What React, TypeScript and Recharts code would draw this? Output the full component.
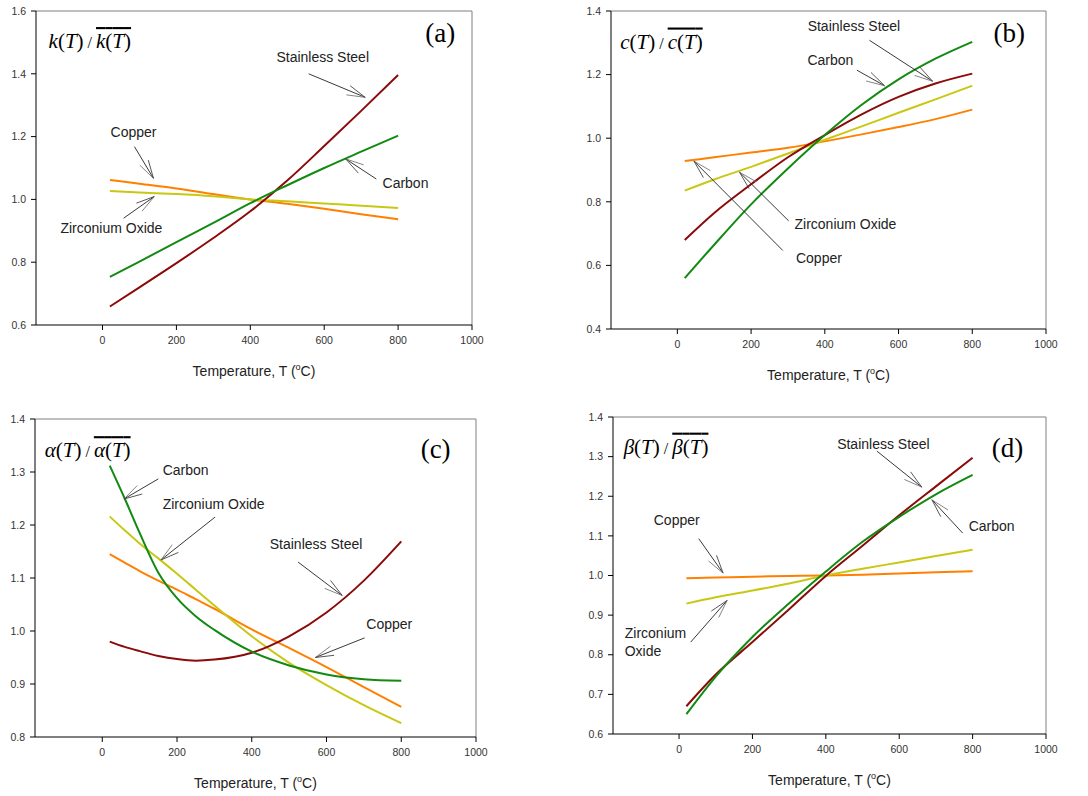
import React from 'react';
import { LineChart, Line, XAxis, YAxis, ReferenceLine, ReferenceDot } from 'recharts';

// ---------- data ----------
const TEMPS = [20, 100, 200, 300, 400, 500, 600, 700, 800];
const TEMPS_C = [20, 60, 100, 150, 200, 250, 300, 400, 500, 600, 700, 800];
const X_TICKS = [0, 200, 400, 600, 800, 1000];

// (a) thermal conductivity k(T)/mean
const kSteel = [0.659, 0.72, 0.797, 0.877, 0.962, 1.06, 1.17, 1.282, 1.396];
const kCarbon = [0.753, 0.802, 0.864, 0.925, 0.988, 1.045, 1.1, 1.152, 1.203];
const kCopper = [1.062, 1.05, 1.035, 1.017, 1.0, 0.986, 0.97, 0.953, 0.937];
const kZirconia = [1.027, 1.022, 1.017, 1.01, 1.0, 0.994, 0.987, 0.98, 0.973];

// (b) specific heat c(T)/mean
const cSteel = [0.68, 0.765, 0.855, 0.94, 1.01, 1.075, 1.13, 1.172, 1.203];
const cCarbon = [0.56, 0.665, 0.792, 0.905, 1.01, 1.105, 1.185, 1.25, 1.303];
const cCopper = [0.928, 0.94, 0.955, 0.97, 0.99, 1.012, 1.035, 1.06, 1.09];
const cZirconia = [0.835, 0.87, 0.91, 0.952, 0.995, 1.037, 1.08, 1.122, 1.165];

// (c) thermal expansion alpha(T)/mean  (on TEMPS_C)
const aSteel = [0.98, 0.97, 0.962, 0.953, 0.947, 0.944, 0.946, 0.959, 0.99, 1.035, 1.095, 1.169];
const aCarbon = [1.312, 1.25, 1.185, 1.11, 1.062, 1.028, 1.002, 0.961, 0.935, 0.918, 0.909, 0.906];
const aCopper = [1.145, 1.129, 1.113, 1.095, 1.078, 1.06, 1.042, 1.003, 0.968, 0.932, 0.894, 0.857];
const aZirconia = [1.216, 1.19, 1.165, 1.137, 1.108, 1.078, 1.048, 0.99, 0.94, 0.898, 0.86, 0.826];

// (d) beta(T)/mean
const bSteel = [0.67, 0.75, 0.832, 0.915, 0.999, 1.075, 1.152, 1.225, 1.297];
const bCarbon = [0.65, 0.745, 0.845, 0.93, 1.01, 1.085, 1.148, 1.205, 1.254];
const bCopper = [0.993, 0.995, 0.997, 0.999, 1.0, 1.002, 1.005, 1.008, 1.011];
const bZirconia = [0.929, 0.945, 0.962, 0.98, 1.0, 1.017, 1.033, 1.049, 1.065];

const COLORS = {
  steel: '#8B0A0A',
  carbon: '#128A12',
  copper: '#FF8000',
  zirconia: '#C8C814',
};

const build = (temps: number[], steel: number[], carbon: number[], copper: number[], zirconia: number[]) =>
  temps.map((t, i) => ({ t, steel: steel[i], carbon: carbon[i], copper: copper[i], zirconia: zirconia[i] }));

const SANS = "'Liberation Sans', Arial, sans-serif";
const SERIF = "'Liberation Serif', 'Times New Roman', serif";

type Ann = { text: string; x: number; y: number; anchor?: 'start' | 'middle' | 'end' };
type Arr = { x1: number; y1: number; x2: number; y2: number };

const arrowShape = (p: any) => {
  const { x1, y1, x2, y2 } = p;
  if ([x1, y1, x2, y2].some((v) => typeof v !== 'number' || isNaN(v))) return <g />;
  const ang = Math.atan2(y2 - y1, x2 - x1);
  const L = 19;
  const a = (15 * Math.PI) / 180;
  const bx1 = x2 - L * Math.cos(ang - a);
  const by1 = y2 - L * Math.sin(ang - a);
  const bx2 = x2 - L * Math.cos(ang + a);
  const by2 = y2 - L * Math.sin(ang + a);
  return (
    <g>
      <line x1={x1} y1={y1} x2={x2} y2={y2} stroke="#222" strokeWidth={0.9} />
      <line x1={x2} y1={y2} x2={bx1} y2={by1} stroke="#777" strokeWidth={0.9} />
      <line x1={x2} y1={y2} x2={bx2} y2={by2} stroke="#444" strokeWidth={0.9} />
    </g>
  );
};

type PanelProps = {
  left: number;
  top: number;
  width: number;
  height: number;
  margin: { top: number; right: number; bottom: number; left: number };
  data: any[];
  yDomain: [number, number];
  yTicks: number[];
  symbol: string;
  formula: { x: number; y: number };
  letter: string;
  letterPos: { x: number; y: number };
  labels: Ann[];
  arrows: Arr[];
};

const Panel = (p: PanelProps) => {
  const xTitle = (props: any) => {
    const vb = props.viewBox || {};
    return (
      <text
        x={vb.x + vb.width / 2}
        y={vb.y + 51}
        textAnchor="middle"
        fontFamily={SANS}
        fontSize={14}
        fill="#222"
      >
        Temperature, T (
        <tspan fontSize={9} dy={-6}>o</tspan>
        <tspan dy={6}>C)</tspan>
      </text>
    );
  };
  return (
    <div style={{ position: 'absolute', left: p.left, top: p.top, width: p.width, height: p.height }}>
      <LineChart width={p.width} height={p.height} data={p.data} margin={p.margin}>
        <XAxis
          dataKey="t"
          type="number"
          domain={[-180, 1000]}
          ticks={X_TICKS}
          allowDataOverflow
          stroke="#000"
          tickSize={5}
          tickMargin={7}
          height={30}
          tick={{ fill: '#333', fontSize: 10.5, fontFamily: SANS }}
          label={xTitle}
        />
        <YAxis
          type="number"
          domain={p.yDomain}
          ticks={p.yTicks}
          allowDataOverflow
          stroke="#000"
          tickSize={5}
          tickMargin={5}
          width={30}
          tickFormatter={(v: number) => v.toFixed(1)}
          tick={{ fill: '#333', fontSize: 10.5, fontFamily: SANS }}
        />
        <ReferenceLine y={p.yDomain[1]} stroke="#808080" strokeWidth={1} />
        <ReferenceLine x={1000} stroke="#808080" strokeWidth={1} />
        <Line dataKey="copper" type="monotone" stroke={COLORS.copper} strokeWidth={2} dot={false} activeDot={false} isAnimationActive={false} />
        <Line dataKey="zirconia" type="monotone" stroke={COLORS.zirconia} strokeWidth={2} dot={false} activeDot={false} isAnimationActive={false} />
        <Line dataKey="steel" type="monotone" stroke={COLORS.steel} strokeWidth={2} dot={false} activeDot={false} isAnimationActive={false} />
        <Line dataKey="carbon" type="monotone" stroke={COLORS.carbon} strokeWidth={2} dot={false} activeDot={false} isAnimationActive={false} />
        {p.arrows.map((a, i) => (
          <ReferenceLine
            key={'ar' + i}
            segment={[{ x: a.x1, y: a.y1 }, { x: a.x2, y: a.y2 }]}
            shape={arrowShape}
          />
        ))}
        {p.labels.map((l, i) => (
          <ReferenceDot
            key={'lb' + i}
            x={l.x}
            y={l.y}
            r={0}
            shape={(d: any) => (
              <text x={d.cx} y={d.cy} textAnchor={l.anchor || 'middle'} fontFamily={SANS} fontSize={14} fill="#222">
                {l.text}
              </text>
            )}
          />
        ))}
        <ReferenceDot
          x={p.formula.x}
          y={p.formula.y}
          r={0}
          shape={(d: any) => (
            <text x={d.cx} y={d.cy} fontFamily={SERIF} fontSize={21} fill="#000">
              <tspan fontStyle="italic">{p.symbol}</tspan>
              <tspan>(</tspan>
              <tspan fontStyle="italic">T</tspan>
              <tspan>)</tspan>
              <tspan fontSize={16}>{' / '}</tspan>
              <tspan style={{ textDecoration: 'overline' }}>
                <tspan fontStyle="italic">{p.symbol}</tspan>
                <tspan>(</tspan>
                <tspan fontStyle="italic">T</tspan>
                <tspan>)</tspan>
              </tspan>
            </text>
          )}
        />
        <ReferenceDot
          x={p.letterPos.x}
          y={p.letterPos.y}
          r={0}
          shape={(d: any) => (
            <text x={d.cx} y={d.cy} textAnchor="middle" fontFamily={SERIF} fontSize={27} fill="#000">
              {p.letter}
            </text>
          )}
        />
      </LineChart>
    </div>
  );
};

export default function App() {
  return (
    <div style={{ position: 'absolute', left: 0, top: 0, width: 1088, height: 796, background: '#fff', overflow: 'hidden' }}>
      <Panel
        left={0}
        top={0}
        width={544}
        height={400}
        margin={{ top: 11, right: 72, bottom: 45, left: 6 }}
        data={build(TEMPS, kSteel, kCarbon, kCopper, kZirconia)}
        yDomain={[0.6, 1.6]}
        yTicks={[0.6, 0.8, 1.0, 1.2, 1.4, 1.6]}
        symbol="k"
        formula={{ x: -146, y: 1.482 }}
        letter="(a)"
        letterPos={{ x: 914, y: 1.5 }}
        labels={[
          { text: 'Stainless Steel', x: 596, y: 1.439 },
          { text: 'Copper', x: 84, y: 1.2 },
          { text: 'Carbon', x: 820, y: 1.035 },
          { text: 'Zirconium Oxide', x: 24, y: 0.892 },
        ]}
        arrows={[
          { x1: 558, y1: 1.4, x2: 711, y2: 1.325 },
          { x1: 86.5, y1: 1.168, x2: 138, y2: 1.067 },
          { x1: 741, y1: 1.065, x2: 658, y2: 1.129 },
          { x1: 57, y1: 0.94, x2: 140, y2: 1.009 },
        ]}
      />
      <Panel
        left={544}
        top={0}
        width={544}
        height={400}
        margin={{ top: 11, right: 42, bottom: 41, left: 37 }}
        data={build(TEMPS, cSteel, cCarbon, cCopper, cZirconia)}
        yDomain={[0.4, 1.4]}
        yTicks={[0.4, 0.6, 0.8, 1.0, 1.2, 1.4]}
        symbol="c"
        formula={{ x: -155, y: 1.282 }}
        letter="(b)"
        letterPos={{ x: 900, y: 1.303 }}
        labels={[
          { text: 'Stainless Steel', x: 479, y: 1.337 },
          { text: 'Carbon', x: 415, y: 1.229 },
          { text: 'Zirconium Oxide', x: 456, y: 0.714 },
          { text: 'Copper', x: 384, y: 0.607 },
        ]}
        arrows={[
          { x1: 521, y1: 1.308, x2: 692.5, y2: 1.179 },
          { x1: 487, y1: 1.214, x2: 562, y2: 1.165 },
          { x1: 302, y1: 0.74, x2: 168.6, y2: 0.893 },
          { x1: 286, y1: 0.647, x2: 45, y2: 0.928 },
        ]}
      />
      <Panel
        left={0}
        top={400}
        width={544}
        height={396}
        margin={{ top: 19, right: 68, bottom: 29, left: 5 }}
        data={build(TEMPS_C, aSteel, aCarbon, aCopper, aZirconia)}
        yDomain={[0.8, 1.4]}
        yTicks={[0.8, 0.9, 1.0, 1.1, 1.2, 1.3, 1.4]}
        symbol="α"
        formula={{ x: -154, y: 1.328 }}
        letter="(c)"
        letterPos={{ x: 892, y: 1.326 }}
        labels={[
          { text: 'Carbon', x: 223, y: 1.294 },
          { text: 'Zirconium Oxide', x: 298, y: 1.23 },
          { text: 'Stainless Steel', x: 572, y: 1.155 },
          { text: 'Copper', x: 768, y: 1.0036 },
        ]}
        arrows={[
          { x1: 150, y1: 1.287, x2: 58, y2: 1.249 },
          { x1: 302, y1: 1.215, x2: 157, y2: 1.134 },
          { x1: 524, y1: 1.13, x2: 642, y2: 1.067 },
          { x1: 702, y1: 0.987, x2: 570, y2: 0.95 },
        ]}
      />
      <Panel
        left={544}
        top={400}
        width={544}
        height={396}
        margin={{ top: 17, right: 42, bottom: 32, left: 39 }}
        data={build(TEMPS, bSteel, bCarbon, bCopper, bZirconia)}
        yDomain={[0.6, 1.4]}
        yTicks={[0.6, 0.7, 0.8, 0.9, 1.0, 1.1, 1.2, 1.3, 1.4]}
        symbol="β"
        formula={{ x: -151, y: 1.3075 }}
        letter="(d)"
        letterPos={{ x: 895, y: 1.299 }}
        labels={[
          { text: 'Stainless Steel', x: 557, y: 1.32 },
          { text: 'Carbon', x: 852, y: 1.112 },
          { text: 'Copper', x: -6.4, y: 1.128 },
          { text: 'Zirconium', x: -148, y: 0.842, anchor: 'start' },
          { text: 'Oxide', x: -148, y: 0.798, anchor: 'start' },
        ]}
        arrows={[
          { x1: 539, y1: 1.314, x2: 661.5, y2: 1.223 },
          { x1: 773, y1: 1.107, x2: 689, y2: 1.191 },
          { x1: 53.7, y1: 1.093, x2: 120, y2: 1.006 },
          { x1: 31.8, y1: 0.832, x2: 131, y2: 0.937 },
        ]}
      />
    </div>
  );
}
